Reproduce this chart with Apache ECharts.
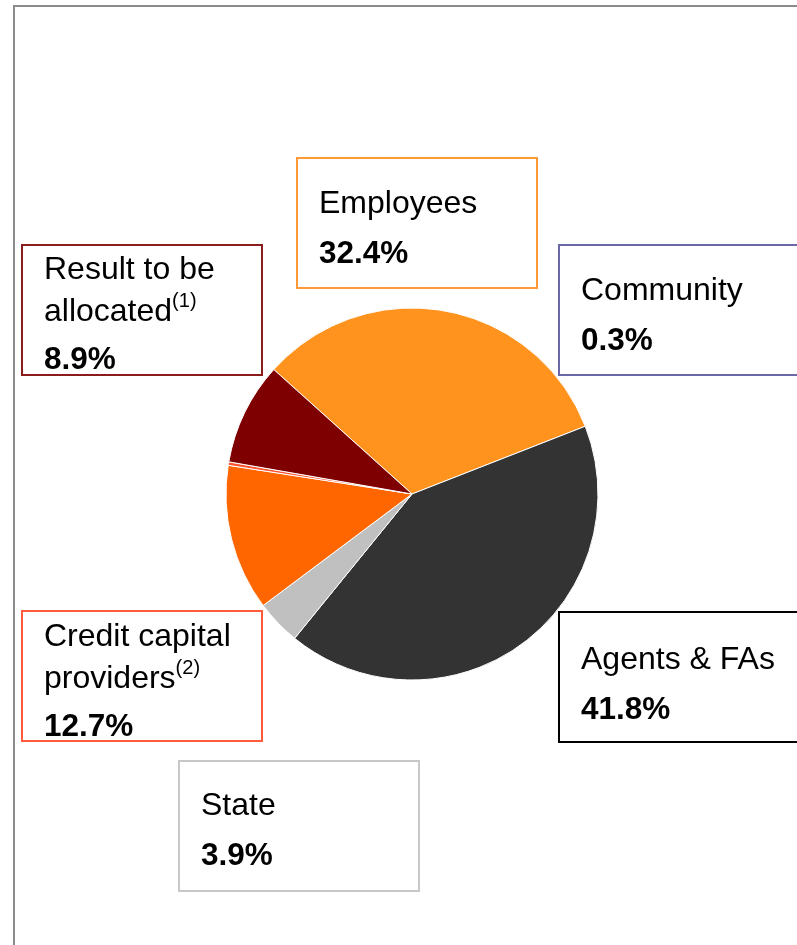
<!DOCTYPE html>
<html>
<head>
<meta charset="utf-8">
<script src="https://cdn.jsdelivr.net/npm/echarts@6/dist/echarts.min.js"></script>
<style>
  html, body { margin: 0; padding: 0; background: #ffffff; }
  #chart { width: 797px; height: 945px; }
</style>
</head>
<body>
<div id="chart"></div>
<script>
// Value distribution by stakeholder (share of total, %)
const categories = ['Employees', 'Agents & FAs', 'State', 'Credit capital providers', 'Community', 'Result to be allocated'];
const shares = [32.4, 41.8, 3.9, 12.7, 0.3, 8.9];
const footnotes = ['', '', '', '(2)', '', '(1)'];
const nameLines = [['Employees'], ['Agents & FAs'], ['State'], ['Credit capital', 'providers'], ['Community'], ['Result to be', 'allocated']];

// Styling
const sliceColors = ['#FF931E', '#333333', '#C0C0C0', '#FF6600', '#FF5533', '#7F0000'];
const boxColors = ['#FF9933', '#000000', '#C8C8C8', '#FF5A3C', '#6B68A8', '#8B1C1C'];
const boxPlacement = [
  { x: 298, y: 159, padTop: 20 },
  { x: 560, y: 613, padTop: 22 },
  { x: 180, y: 762, padTop: 19 },
  { x: 23,  y: 612, padTop: 4 },
  { x: 560, y: 246, padTop: 20 },
  { x: 23,  y: 246, padTop: 3 }
];

const FONT = '"Liberation Sans", Arial, sans-serif';

function labelText(i) {
  const lines = nameLines[i];
  const v = shares[i].toFixed(1) + '%';
  if (lines.length === 1) {
    return '{n2|' + lines[0] + '}\n{v2|' + v + '}';
  }
  const out = lines.map(function (l, k) {
    let s = '{n3|' + l + '}';
    if (k === lines.length - 1 && footnotes[i]) s += '{sup|' + footnotes[i] + '}';
    return s;
  });
  return out.join('\n') + '\n{v3|' + v + '}';
}

const seriesData = categories.map(function (name, i) {
  const multi = nameLines[i].length > 1;
  const p = boxPlacement[i];
  return {
    name: name,
    value: shares[i],
    itemStyle: { color: sliceColors[i] },
    label: {
      borderColor: boxColors[i],
      height: multi ? 128 - p.padTop : 128 - p.padTop - 8,
      padding: [p.padTop, 21, multi ? 0 : 8, 21]
    }
  };
});

const chart = echarts.init(document.getElementById('chart'), null, { renderer: 'canvas' });

chart.setOption({
  animation: false,
  backgroundColor: '#ffffff',
  graphic: [
    {
      type: 'rect',
      shape: { x: 14, y: 6, width: 820, height: 980 },
      style: { fill: 'none', stroke: '#8C8C8C', lineWidth: 2 },
      silent: true
    }
  ],
  series: [
    {
      type: 'pie',
      center: [412, 494],
      radius: [0, 186],
      startAngle: 138,
      clockwise: true,
      avoidLabelOverlap: false,
      itemStyle: { borderColor: '#ffffff', borderWidth: 1 },
      emphasis: { disabled: true },
      labelLine: { show: false },
      label: {
        show: true,
        position: 'outside',
        formatter: function (params) { return labelText(params.dataIndex); },
        backgroundColor: '#ffffff',
        borderWidth: 2,
        width: 196,
        color: '#000000',
        fontFamily: FONT,
        rich: {
          n2: { fontSize: 32, lineHeight: 50, fontFamily: FONT, color: '#000' },
          v2: { fontSize: 31.5, lineHeight: 50, fontWeight: 'bold', fontFamily: FONT, color: '#000' },
          n3: { fontSize: 32, lineHeight: 42, fontFamily: FONT, color: '#000' },
          v3: { fontSize: 31.5, lineHeight: 54, fontWeight: 'bold', fontFamily: FONT, color: '#000' },
          sup: { fontSize: 20, lineHeight: 36, verticalAlign: 'top', fontFamily: FONT, color: '#000' }
        }
      },
      labelLayout: function (params) {
        const p = boxPlacement[params.dataIndex];
        return { x: p.x, y: p.y, align: 'left', verticalAlign: 'top', hideOverlap: false, moveOverlap: null };
      },
      data: seriesData
    }
  ]
});
</script>
</body>
</html>
